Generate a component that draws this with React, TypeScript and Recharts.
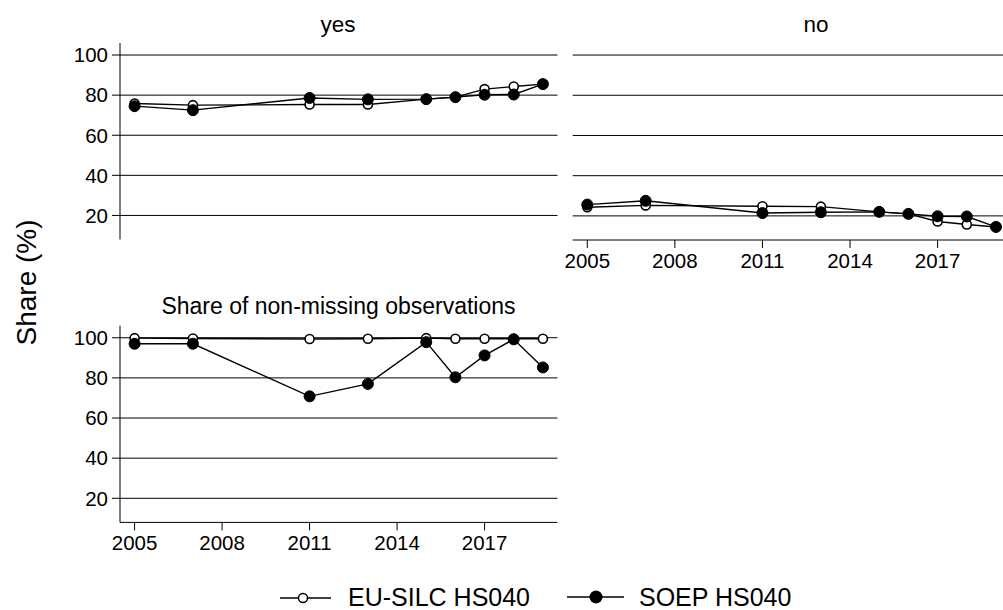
import { LineChart, Line, XAxis, YAxis, ReferenceLine } from 'recharts'

// survey years and shares (%)
const years = [2005, 2007, 2011, 2013, 2015, 2016, 2017, 2018, 2019]
const yesEuSilc = [75.8, 75.0, 75.3, 75.3, 78.0, 79.0, 83.0, 84.3, 85.5]
const yesSoep = [74.5, 72.5, 78.6, 77.9, 78.0, 79.0, 80.2, 80.3, 85.5]
const noEuSilc = [24.3, 25.2, 24.8, 24.6, 22.0, 21.0, 17.2, 15.7, 14.5]
const noSoep = [25.6, 27.5, 21.4, 21.8, 22.0, 21.0, 19.8, 19.7, 14.5]
const obsEuSilc = [99.8, 99.6, 99.4, 99.5, 99.8, 99.5, 99.5, 99.5, 99.5]
const obsSoep = [97.0, 97.0, 70.8, 77.0, 97.8, 80.3, 91.2, 99.2, 85.2]

const yTicks = [20, 40, 60, 80, 100]
const xTicks = [2005, 2008, 2011, 2014, 2017]
const yDomain: [number, number] = [8, 106]

const FONT = '"Liberation Sans", Arial, sans-serif'

const makeRows = (a: number[], b: number[]) =>
  years.map((year, i) => ({ year, eu: a[i], soep: b[i] }))

const yesData = makeRows(yesEuSilc, yesSoep)
const noData = makeRows(noEuSilc, noSoep)
const obsData = makeRows(obsEuSilc, obsSoep)

const tickStyle = { fill: '#000', fontSize: 20.5, fontFamily: FONT }

function Series() {
  return [
    <Line
      key="eu"
      dataKey="eu"
      stroke="#000"
      strokeWidth={1.4}
      dot={{ r: 4.5, fill: '#fff', stroke: '#000', strokeWidth: 1.6 }}
      isAnimationActive={false}
    />,
    <Line
      key="soep"
      dataKey="soep"
      stroke="#000"
      strokeWidth={1.4}
      dot={{ r: 5.5, fill: '#000', stroke: '#000', strokeWidth: 1 }}
      isAnimationActive={false}
    />,
  ]
}

function Grid() {
  return yTicks.map((v) => (
    <ReferenceLine key={v} y={v} stroke="#000" strokeWidth={1} />
  ))
}

export default function App() {
  return (
    <div
      style={{
        position: 'absolute',
        left: 0,
        top: 0,
        width: 1003,
        height: 610,
        overflow: 'hidden',
        background: '#fff',
        fontFamily: FONT,
      }}
    >
      {/* yes */}
      <div style={{ position: 'absolute', left: 0, top: 0 }}>
        <LineChart width={560} height={245} data={yesData} margin={{ top: 43, right: 2.5, left: 0, bottom: 5.5 }}>
          {Grid()}
          <XAxis dataKey="year" type="number" domain={[2004.5, 2019.5]} hide />
          <YAxis
            domain={yDomain}
            ticks={yTicks}
            width={120}
            tick={tickStyle}
            tickSize={8}
            tickMargin={4}
            axisLine={{ stroke: '#000' }}
            tickLine={{ stroke: '#000' }}
          />
          {Series()}
        </LineChart>
      </div>

      {/* no */}
      <div style={{ position: 'absolute', left: 560, top: 0 }}>
        <LineChart width={443} height={280} data={noData} margin={{ top: 43, right: 0, left: 12.7, bottom: 0 }}>
          {Grid()}
          <XAxis
            dataKey="year"
            type="number"
            domain={[2004.5, 2019.24]}
            ticks={xTicks}
            height={40}
            tick={tickStyle}
            tickSize={8}
            tickMargin={5}
            allowDataOverflow
            axisLine={{ stroke: '#000' }}
            tickLine={{ stroke: '#000' }}
          />
          <YAxis domain={yDomain} ticks={yTicks} hide />
          {Series()}
        </LineChart>
      </div>

      {/* share of non-missing observations */}
      <div style={{ position: 'absolute', left: 0, top: 280 }}>
        <LineChart width={560} height={282.4} data={obsData} margin={{ top: 45.7, right: 2.5, left: 0, bottom: 0 }}>
          {Grid()}
          <XAxis
            dataKey="year"
            type="number"
            domain={[2004.5, 2019.5]}
            ticks={xTicks}
            height={40}
            tick={tickStyle}
            tickSize={8}
            tickMargin={5}
            axisLine={{ stroke: '#000' }}
            tickLine={{ stroke: '#000' }}
          />
          <YAxis
            domain={yDomain}
            ticks={yTicks}
            width={120}
            tick={tickStyle}
            tickSize={8}
            tickMargin={4}
            axisLine={{ stroke: '#000' }}
            tickLine={{ stroke: '#000' }}
          />
          {Series()}
        </LineChart>
      </div>

      {/* titles, axis label and legend */}
      <svg
        width={1003}
        height={610}
        style={{ position: 'absolute', left: 0, top: 0, pointerEvents: 'none' }}
        fontFamily={FONT}
      >
        <text x={338} y={32} fontSize={22.5} textAnchor="middle" fill="#000">yes</text>
        <text x={816} y={32} fontSize={22.5} textAnchor="middle" fill="#000">no</text>
        <text x={338.5} y={314} fontSize={23} textAnchor="middle" fill="#000">
          Share of non-missing observations
        </text>
        <text
          x={0}
          y={0}
          fontSize={28}
          textAnchor="middle"
          fill="#000"
          transform="translate(36 282.5) rotate(-90)"
        >
          Share (%)
        </text>

        <line x1={280} x2={331} y1={598} y2={598} stroke="#000" strokeWidth={1.5} />
        <circle cx={303} cy={598} r={4.5} fill="#fff" stroke="#000" strokeWidth={1.5} />
        <text x={348} y={606} fontSize={25} fill="#000">EU-SILC HS040</text>

        <line x1={567} x2={624} y1={597} y2={597} stroke="#000" strokeWidth={1.5} />
        <circle cx={596} cy={597} r={6.5} fill="#000" />
        <text x={639} y={606} fontSize={25} fill="#000">SOEP HS040</text>
      </svg>
    </div>
  )
}
